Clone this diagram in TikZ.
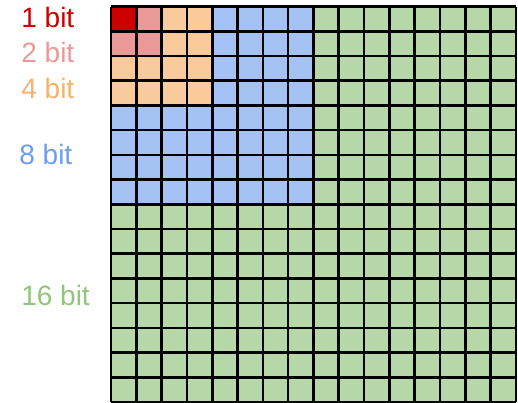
\documentclass[tikz,border=0pt]{standalone}
\usepackage{fontspec}
\setmainfont{Liberation Sans}
\definecolor{cred}{HTML}{CC0000}
\definecolor{cpink}{HTML}{EA9999}
\definecolor{corange}{HTML}{F9CB9C}
\definecolor{cblue}{HTML}{A4C2F4}
\definecolor{cgreen}{HTML}{B6D7A8}
\definecolor{torange}{HTML}{F6B26B}
\definecolor{tblue}{HTML}{6D9EEB}
\definecolor{tgreen}{HTML}{93C47D}
\begin{document}
\begin{tikzpicture}[x=1pt,y=-1pt,
  lbl/.style={anchor=base east,inner sep=0pt,font=\fontsize{28}{30}\selectfont},
  gridline/.style={line width=2.6pt,black}]
\useasboundingbox (0,0) rectangle (518,403);
\def\cw{25.3}
\def\ch{24.7}
\def\gx{111}
\def\gy{6.7}
\foreach \i in {0,...,15}{
  \foreach \j in {0,...,15}{
    \pgfmathtruncatemacro\m{max(\i,\j)}
    \ifnum\m=0 \def\fc{cred}\else
    \ifnum\m<2 \def\fc{cpink}\else
    \ifnum\m<4 \def\fc{corange}\else
    \ifnum\m<8 \def\fc{cblue}\else
    \def\fc{cgreen}\fi\fi\fi\fi
    \fill[\fc] ({\gx+\i*\cw},{\gy+\j*\ch}) rectangle ++(\cw,\ch);
  }
}
\foreach \i in {0,...,16}{
  \draw[gridline] ({\gx+\i*\cw},\gy) -- ({\gx+\i*\cw},{\gy+16*\ch});
  \draw[gridline] (\gx,{\gy+\i*\ch}) -- ({\gx+16*\cw},{\gy+\i*\ch});
}
\node[lbl,text=cred] (l1) at (74.5,27.3) {1 bit};
\node[lbl,text=cpink] (l2) at (74.5,62.7) {2 bit};
\node[lbl,text=torange] (l4) at (74.5,98.3) {4 bit};
\node[lbl,text=tblue] (l8) at (72.5,164.3) {8 bit};
\node[lbl,text=tgreen] (l16) at (90,305.5) {16 bit};
\end{tikzpicture}
\end{document}
